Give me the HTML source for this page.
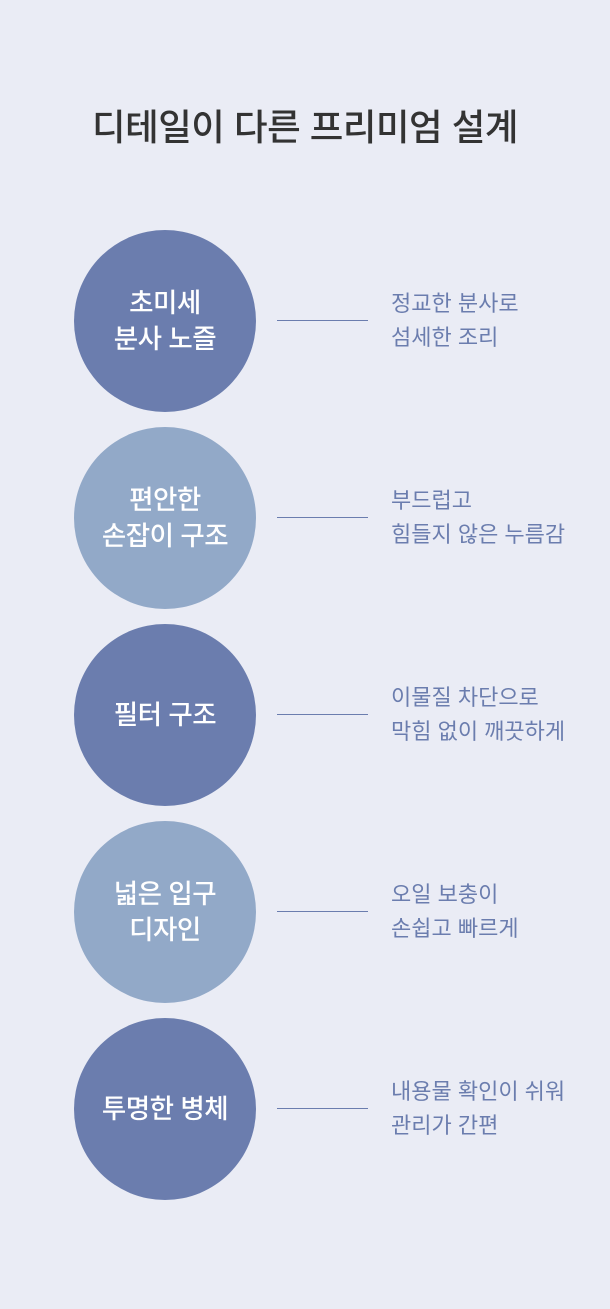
<!DOCTYPE html>
<html><head><meta charset="utf-8"><style>
html,body{margin:0;padding:0}
body{width:610px;height:1309px;background:#eaecf5;position:relative;overflow:hidden;font-family:"Liberation Sans","Noto Sans CJK KR",sans-serif}
.t{position:absolute;top:104px;left:0;width:610px;text-align:center;font-size:36.5px;font-weight:500;color:#333;letter-spacing:-0.5px;line-height:48px}
.c{position:absolute;left:74px;width:182px;height:182px;border-radius:50%;display:flex;align-items:center;justify-content:center;text-align:center;color:#fff;font-size:26.5px;line-height:36px;font-weight:500;letter-spacing:-0.5px}
.d{background:#6b7dae}.l{background:#92a9c8}
.ln{position:absolute;left:277px;width:91px;height:1px;background:#6b7dae}
.x{position:absolute;left:391px;color:#6b7dae;font-size:22px;line-height:34px;letter-spacing:0px}
</style></head><body>
<div class="t">디테일이 다른 프리미엄 설계</div>

<div class="c d" style="top:230px">초미세<br>분사 노즐</div>
<div class="ln" style="top:320px"></div>
<div class="x" style="top:287px">정교한 분사로<br>섬세한 조리</div>

<div class="c l" style="top:427px">편안한<br>손잡이 구조</div>
<div class="ln" style="top:517px"></div>
<div class="x" style="top:484px">부드럽고<br>힘들지 않은 누름감</div>

<div class="c d" style="top:624px">필터 구조</div>
<div class="ln" style="top:714px"></div>
<div class="x" style="top:681px">이물질 차단으로<br>막힘 없이 깨끗하게</div>

<div class="c l" style="top:821px">넓은 입구<br>디자인</div>
<div class="ln" style="top:911px"></div>
<div class="x" style="top:878px">오일 보충이<br>손쉽고 빠르게</div>

<div class="c d" style="top:1018px">투명한 병체</div>
<div class="ln" style="top:1108px"></div>
<div class="x" style="top:1075px">내용물 확인이 쉬워<br>관리가 간편</div>
</body></html>
